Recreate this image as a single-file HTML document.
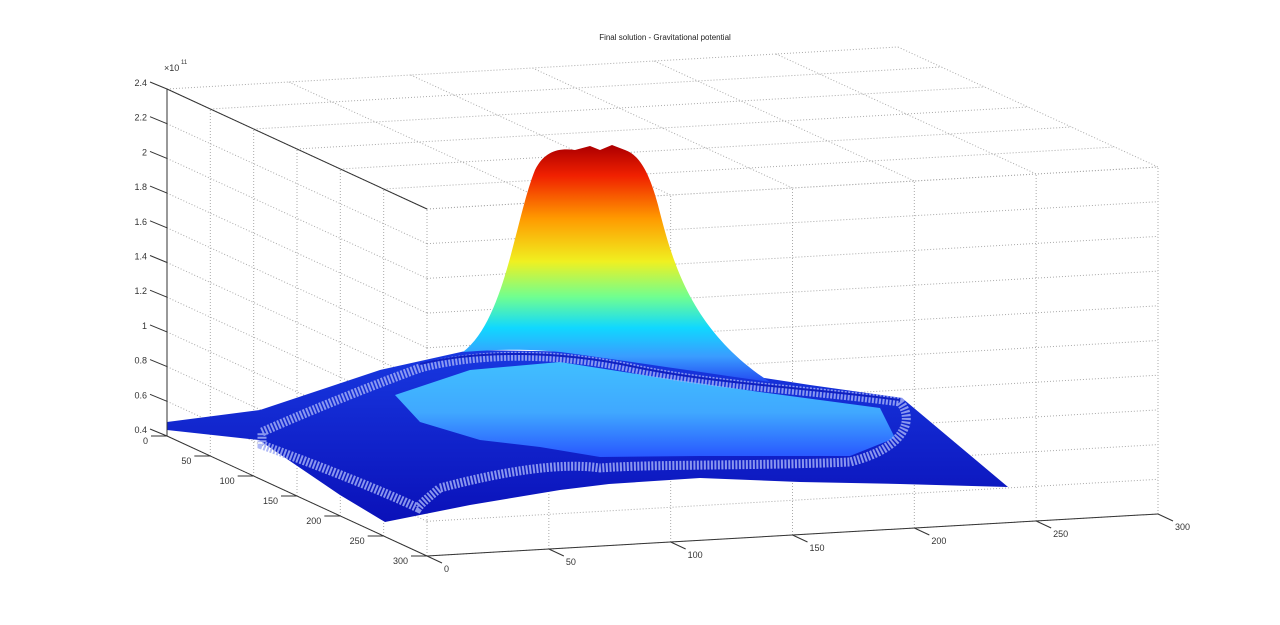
<!DOCTYPE html>
<html><head><meta charset="utf-8"><style>
html,body{margin:0;padding:0;background:#fff;}
svg{display:block;font-family:"Liberation Sans",sans-serif;}
</style></head><body>
<svg id="s" width="1280" height="625" viewBox="0 0 1280 625" xmlns="http://www.w3.org/2000/svg">
<defs>
<linearGradient id="peak" x1="0" y1="147" x2="0" y2="385" gradientUnits="userSpaceOnUse">
<stop offset="0" stop-color="#b00000"/>
<stop offset="0.12" stop-color="#f02000"/>
<stop offset="0.3" stop-color="#ff9a00"/>
<stop offset="0.48" stop-color="#f0f020"/>
<stop offset="0.63" stop-color="#70ff90"/>
<stop offset="0.76" stop-color="#10d8ff"/>
<stop offset="0.88" stop-color="#3a9cff"/>
<stop offset="1" stop-color="#2040f0"/>
</linearGradient>
<linearGradient id="inner" x1="0" y1="360" x2="0" y2="465" gradientUnits="userSpaceOnUse">
<stop offset="0" stop-color="#40c0ff"/>
<stop offset="0.5" stop-color="#40a8ff"/>
<stop offset="1" stop-color="#2448ff"/>
</linearGradient>
<linearGradient id="base" x1="0" y1="350" x2="0" y2="525" gradientUnits="userSpaceOnUse">
<stop offset="0" stop-color="#1838e0"/>
<stop offset="1" stop-color="#0a10b8"/>
</linearGradient>
</defs>
<g id="grid" stroke="#aaa" stroke-width="1" stroke-dasharray="1,2" fill="none"></g>
<text x="665" y="40" font-size="8" text-anchor="middle" fill="#222">Final solution - Gravitational potential</text>
<text x="164" y="71" font-size="9" fill="#333">×10</text>
<text x="181" y="64" font-size="6" fill="#333">11</text>
<!-- surface -->
<polygon fill="url(#base)" points="167,422 260,410 380,370 470,350 600,352 700,368 810,385 902,398 1008,487 900,484 800,482 700,478 609,484 560,490 470,505 385,522 340,495 259,440 167,430"/>
<polygon fill="url(#inner)" points="395,395 470,370 560,362 650,376 760,392 880,408 895,438 850,456 700,456 600,457 540,447 480,440 420,422"/>
<path fill="url(#peak)" d="M463,352 C505,320 515,220 535,170 C545,150 560,148 575,150 L590,146 L600,150 L612,145 L625,150 C640,155 650,175 658,205 C672,260 690,330 770,382 C700,372 620,360 560,352 C520,348 490,350 463,352 Z"/>
<path fill="none" stroke="#a0acf4" stroke-width="9" stroke-dasharray="2,1.5" opacity="0.85" d="M262,432 C300,415 360,390 420,368 C480,352 560,352 640,370 C720,386 810,390 900,402 C915,420 905,448 850,462 C760,466 650,464 600,468 C560,462 500,472 440,488 C425,500 420,505 418,508 C380,490 330,470 262,445 Z"/>
<path fill="none" stroke="#1020c0" stroke-width="2" d="M420,364 C480,350 560,350 640,368 C720,384 810,388 900,400"/>
<g id="axes" stroke="#333" stroke-width="1" fill="none"></g>
<g id="labels" font-size="9" fill="#333"></g>
</svg>
<script>
function P(x,y,z){return [167+x*731/300+y*260/300, 436-x*42/300+y*120/300-(z-0.4)*347/2];}
var ns="http://www.w3.org/2000/svg";
function line(g,a,b){var l=document.createElementNS(ns,"line");l.setAttribute("x1",a[0]);l.setAttribute("y1",a[1]);l.setAttribute("x2",b[0]);l.setAttribute("y2",b[1]);g.appendChild(l);}
function text(g,x,y,t,anc){var e=document.createElementNS(ns,"text");e.setAttribute("x",x);e.setAttribute("y",y);if(anc)e.setAttribute("text-anchor",anc);e.textContent=t;g.appendChild(e);}
var G=document.getElementById("grid"),A=document.getElementById("axes"),L=document.getElementById("labels");
var zs=[];for(var i=0;i<=10;i++)zs.push(0.4+i*0.2);
for(var v=0;v<=300;v+=50){
 line(G,P(0,v,0.4),P(0,v,2.4));
 line(G,P(v,300,0.4),P(v,300,2.4));
 line(G,P(v,0,2.4),P(v,300,2.4));
 line(G,P(0,v,2.4),P(300,v,2.4));
}
zs.forEach(function(z){line(G,P(0,0,z),P(0,300,z));line(G,P(0,300,z),P(300,300,z));});
line(A,P(0,0,0.4),P(0,0,2.4));
line(A,P(0,0,0.4),P(0,300,0.4));
line(A,P(0,300,0.4),P(300,300,0.4));
var a=P(0,0,2.4),b=P(0,300,2.4);line(A,a,b);
zs.forEach(function(z){var p=P(0,0,z);line(A,p,[p[0]-17,p[1]-7]);
 var t=(Math.round(z*10)/10).toString();text(L,p[0]-20,p[1]-3,t,"end");});
for(var v=0;v<=300;v+=50){
 var p=P(0,v,0.4);line(A,p,[p[0]-16,p[1]]);text(L,p[0]-19,p[1]+8,String(v),"end");
 var q=P(v,300,0.4);line(A,q,[q[0]+15,q[1]+7]);text(L,q[0]+17,q[1]+16,String(v),"start");
}
</script>
</body></html>
